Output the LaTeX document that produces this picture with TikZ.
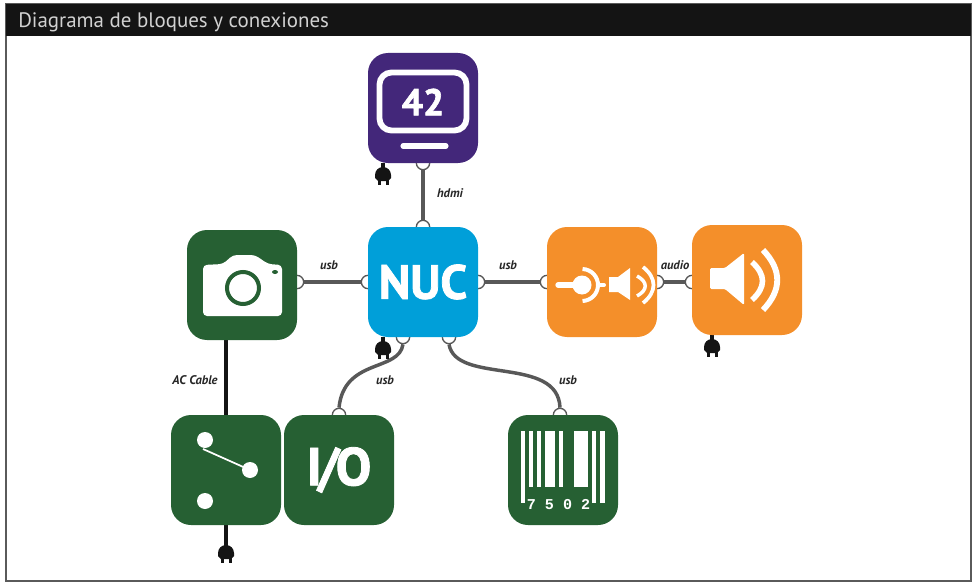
\documentclass[tikz,border=0pt]{standalone}
\usepackage{fontspec}
\setmainfont{PT Sans}
\newfontfamily\heavyfont[BoldFeatures={FakeBold=1.6}]{PT Sans}
\newfontfamily\barfont{Liberation Mono}
\usetikzlibrary{backgrounds}
\definecolor{tilegreen}{RGB}{38,96,51}
\definecolor{tilepurple}{RGB}{67,39,122}
\definecolor{tileblue}{RGB}{0,159,217}
\definecolor{tileorange}{RGB}{244,143,42}
\definecolor{wiregray}{RGB}{88,88,88}
\definecolor{framegray}{RGB}{90,90,90}
\definecolor{plugblack}{RGB}{20,20,20}
\tikzset{
    tile/.style={rectangle, rounded corners=15pt, minimum size=82.5pt, inner sep=0pt, text=white, font=\bfseries},
    port/.style={circle, draw=wiregray, fill=white, line width=1pt, minimum size=10pt, inner sep=0pt},
    wire/.style={draw=wiregray, line width=2.6pt},
    cable/.style={draw=plugblack, line width=2.4pt},
    lbl/.style={font=\bfseries\itshape\fontsize{9.4pt}{11pt}\selectfont, text=black!85, inner sep=0pt},
    plug/.pic={
        \coordinate (-top) at (0,0);
        \fill[plugblack] (-8,9) -- (-8,6) arc[start angle=180, end angle=360, radius=8] -- (8,9) -- (5,12) -- (-5,12) -- cycle;
        \fill[plugblack] (-5.5,10) rectangle (-2.5,16);
        \fill[plugblack] (2.5,10) rectangle (5.5,16);
    }
}
\begin{document}
\begin{tikzpicture}[x=0.75pt, y=-0.75pt]
    \useasboundingbox (0,0) rectangle (975,585);
    % Frame and title
    \draw[framegray, line width=1.2pt] (6,4) rectangle (971,581);
    \fill[black!92] (6,4) rectangle (971,36);
    \node[anchor=west, inner sep=0pt, text=black!18, font=\fontsize{15.7pt}{18pt}\selectfont] (title) at (18,22) {Diagrama de bloques y conexiones};

    % Tiles
    \node[tile, fill=tilepurple] (screen) at (423,108) {};
    \node[tile, fill=tileblue, font=\heavyfont\bfseries\fontsize{36pt}{38pt}\selectfont] (nuc) at (423,282) {NUC};
    \node[tile, fill=tilegreen] (cam) at (242,285) {};
    \node[tile, fill=tileorange] (amp) at (602,282) {};
    \node[tile, fill=tileorange] (spk) at (747,280) {};
    \node[tile, fill=tilegreen] (sw) at (226,470) {};
    \node[tile, fill=tilegreen, font=\heavyfont\bfseries\fontsize{40pt}{42pt}\selectfont] (io) at (339,470) {I\kern-3pt/\kern-3pt O};
    \node[tile, fill=tilegreen] (bar) at (563,470) {};

    % Screen icon
    \draw[white, line width=4.4pt, rounded corners=9pt] (379.5,72.5) rectangle (466.5,130.5);
    \node[text=white, font=\heavyfont\bfseries\fontsize{28pt}{30pt}\selectfont, inner sep=0pt] (num) at (423,102) {42};
    \draw[white, line width=3.8pt, line cap=round] (403,146) -- (446,146);

    % Camera icon
    \fill[white, rounded corners=3pt] (203,265) -- (223,264) -- (233,255) -- (255,255) -- (268,264) -- (282,265) -- (282,316) -- (203,316) -- cycle;
    \draw[tilegreen, line width=3pt] (243,288) circle[radius=16];
    \fill[tilegreen] (275,272) ellipse[x radius=3, y radius=2];

    % Amplifier icon
    \draw[white, line width=4pt, line cap=round] (558,285) -- (575,285);
    \fill[white] (582,285) circle[radius=9.5];
    \draw[white, line width=3pt] (582,285) ++(-88:16) arc[start angle=-88, end angle=88, radius=16];
    \draw[white, line width=3pt, line cap=round] (599,285) -- (604,285);
    \fill[white] (609,277) -- (618,277) -- (630,268) -- (630,300) -- (618,292) -- (609,292) -- cycle;
    \draw[white, line width=2.6pt] (637,276) .. controls (648,282) and (648,290) .. (637,296);
    \draw[white, line width=2.8pt] (643,267) .. controls (657,278) and (657,292) .. (643,303);

    % Speaker icon
    \fill[white, rounded corners=1pt] (710,268) -- (725,268) -- (744,253) -- (744,305) -- (725,289) -- (710,289) -- cycle;
    \draw[white, line width=4.2pt] (752,262) .. controls (766,275) and (766,287) .. (752,300);
    \draw[white, line width=4.4pt] (763,250) .. controls (782,270) and (782,290) .. (763,310);

    % Switch icon
    \fill[white] (205,440) circle[radius=8];
    \fill[white] (250,470) circle[radius=8];
    \fill[white] (205,501) circle[radius=8];
    \draw[white, line width=1.3pt] (203,449) -- (250,470);

    % Barcode icon
    \fill[white] (521,431) rectangle (524.5,503);
    \fill[white] (529,431) rectangle (533,487);
    \fill[white] (537,431) rectangle (541,487);
    \fill[white] (545,431) rectangle (555,487);
    \fill[white] (559,431) rectangle (563,487);
    \fill[white] (574,431) rectangle (588,487);
    \fill[white] (592,431) rectangle (596,503);
    \fill[white] (600,431) rectangle (605,503);
    \node[text=white, inner sep=0pt, font=\barfont\bfseries\fontsize{11.3pt}{12pt}\selectfont] (code) at (558.5,505) {7 5 0 2};

    % Ports and connections
    \begin{scope}[on background layer]
        \node[port] (screenS) at (423,163) {};
        \node[port] (nucN) at (423,227) {};
        \node[port] (camE) at (297,282) {};
        \node[port] (nucW) at (368,282) {};
        \node[port] (nucE) at (478,282) {};
        \node[port] (ampW) at (547,282) {};
        \node[port] (ampE) at (657,282) {};
        \node[port] (spkW) at (692,282) {};
        \node[port] (nucSa) at (403,337) {};
        \node[port] (nucSb) at (449,337) {};
        \node[port] (ioN) at (339,415) {};
        \node[port] (barN) at (560,415) {};

        \draw[wire] (screenS) -- (nucN);
        \draw[wire] (camE) -- (nucW);
        \draw[wire] (nucE) -- (ampW);
        \draw[wire] (ampE) -- (spkW);
        \draw[wire] (nucSa.south) .. controls (399,372) and (344,358) .. (ioN.north);
        \draw[wire] (nucSb.south) .. controls (456,385) and (558,355) .. (barN.north);

        % Power cords
        \draw[cable] (sw.north) -- (sw.north |- cam.south);
    \end{scope}

    % Plugs
    \pic (plugA) at (383,169) {plug};
    \pic (plugB) at (383,343) {plug};
    \pic (plugC) at (712,341) {plug};
    \pic (plugD) at (226,547) {plug};
    \begin{scope}[on background layer]
        \draw[cable] (plugA-top) -- (plugA-top |- screen.south);
        \draw[cable] (plugB-top) -- (plugB-top |- nuc.south);
        \draw[cable] (plugC-top) -- (plugC-top |- spk.south);
        \draw[cable] (plugD-top) -- (plugD-top |- sw.south);
    \end{scope}

    % Labels
    \node[lbl] (lhdmi) at (450,193) {hdmi};
    \node[lbl] (lcam) at (329,265) {usb};
    \node[lbl] (lamp) at (508,265) {usb};
    \node[lbl] (laudio) at (675,265) {audio};
    \node[lbl] (lac) at (195,380) {AC Cable};
    \node[lbl] (lio) at (385,380) {usb};
    \node[lbl] (lbar) at (568,380) {usb};
\end{tikzpicture}
\end{document}
